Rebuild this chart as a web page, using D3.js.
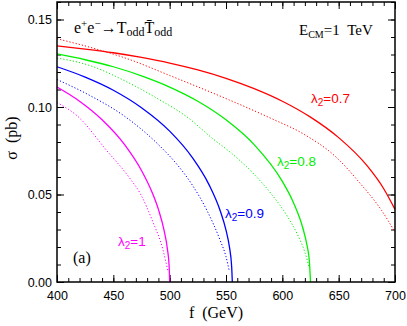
<!DOCTYPE html>
<html>
<head>
<meta charset="UTF-8">
<script src="https://d3js.org/d3.v7.min.js"></script>
<style>
  body { margin: 0; background: #fff; }
  .axis text { font-family: "Liberation Sans", sans-serif; font-size: 12.5px; fill: #000; }
  .axis line { stroke: #000; stroke-width: 1; }
  .axis path { display: none; }
  .serif { font-family: "Liberation Serif", serif; fill: #000; }
  .lab { font-family: "Liberation Sans", sans-serif; font-size: 13.5px; }
</style>
</head>
<body>
<svg id="chart"></svg>
<script>
const width = 407, height = 326;
const plotLeft = 57, plotRight = 395, plotTop = 2, plotBottom = 282;

// sigma (pb) vs f (GeV)
const solid07 = [[400,0.1349],[425,0.1331],[450,0.1310],[475,0.1283],[500,0.1251],[525,0.1212],[550,0.1164],[575,0.1105],[600,0.1033],[625,0.0942],[650,0.0825],[675,0.0666],[690,0.0533],[700,0.0415]];
const dotted07 = [[400,0.139],[430,0.134],[465,0.127],[500,0.118],[553,0.104],[590,0.0935],[619,0.0845],[648,0.0712],[669,0.0564],[688,0.041],[700,0.0285]];
const solid08 = [[400,0.1303],[425,0.1270],[450,0.1230],[475,0.1178],[500,0.1114],[525,0.1033],[550,0.0927],[575,0.0785],[600,0.0575],[610,0.0452],[618,0.0313],[622,0.0206],[624,0.0119],[625,0]];
const dotted08 = [[400,0.128],[430,0.1235],[460,0.115],[490,0.1045],[515,0.0945],[539,0.0815],[555,0.0735],[575,0.0615],[590,0.0505],[605,0.037],[613,0.0277],[620,0.017],[624,0.008]];
const solid09 = [[400,0.1230],[425,0.1171],[450,0.1096],[475,0.0996],[500,0.0862],[520,0.0712],[535,0.0555],[545,0.0404],[550,0.0296],[553,0.0202],[555,0.009],[555.6,0]];
const dotted09 = [[400,0.1157],[430,0.1063],[460,0.0947],[490,0.0785],[507,0.0668],[520,0.0555],[533,0.041],[545,0.0235],[550,0.0145],[553,0.006]];
const solid10 = [[400,0.1114],[420,0.1033],[440,0.0927],[460,0.0785],[475,0.0637],[485,0.0503],[490,0.0415],[495,0.0296],[498,0.0188],[499.5,0.0094],[500,0]];
const dotted10 = [[400,0.1025],[418,0.0949],[444,0.0752],[464,0.0598],[474,0.0504],[485,0.0345],[494,0.0185],[498.5,0.006]];

const lambdaLabels = ["0.7", "0.8", "0.9", "1"];
const xMajor = [400, 450, 500, 550, 600, 650, 700];
const yMajor = [0, 0.05, 0.10, 0.15];

const series = [
  {solid: solid07, dotted: dotted07, color: "#ff0000", lx: 311, ly: 103},
  {solid: solid08, dotted: dotted08, color: "#00f000", lx: 277, ly: 166},
  {solid: solid09, dotted: dotted09, color: "#0000ff", lx: 225, ly: 218},
  {solid: solid10, dotted: dotted10, color: "#ff00ff", lx: 118, ly: 246}
];

const svg = d3.select("#chart").attr("width", width).attr("height", height);

const x = d3.scaleLinear().domain([400, 700]).range([plotLeft, plotRight]);
const y = d3.scaleLinear().domain([0, 0.16]).range([plotBottom, plotTop]);

const minorX = d3.range(400, 701, 10);
const minorY = d3.range(0, 0.1601, 0.01);

// ticks (inward on all four sides)
svg.append("g").attr("class", "axis").attr("transform", `translate(0,${plotBottom})`)
  .call(d3.axisBottom(x).tickValues(minorX).tickSize(-4).tickFormat(""));
svg.append("g").attr("class", "axis").attr("transform", `translate(0,${plotBottom})`)
  .call(d3.axisBottom(x).tickValues(xMajor).tickSize(-7).tickPadding(9).tickFormat(d3.format("d")));
svg.append("g").attr("class", "axis").attr("transform", `translate(0,${plotTop})`)
  .call(d3.axisTop(x).tickValues(minorX).tickSize(-4).tickFormat(""));
svg.append("g").attr("class", "axis").attr("transform", `translate(0,${plotTop})`)
  .call(d3.axisTop(x).tickValues(xMajor).tickSize(-7).tickFormat(""));

svg.append("g").attr("class", "axis").attr("transform", `translate(${plotLeft},0)`)
  .call(d3.axisLeft(y).tickValues(minorY).tickSize(-4).tickFormat(""));
svg.append("g").attr("class", "axis").attr("transform", `translate(${plotLeft},0)`)
  .call(d3.axisLeft(y).tickValues(yMajor).tickSize(-7).tickPadding(5).tickFormat(d3.format(".2f")));
svg.append("g").attr("class", "axis").attr("transform", `translate(${plotRight},0)`)
  .call(d3.axisRight(y).tickValues(minorY).tickSize(-4).tickFormat(""));
svg.append("g").attr("class", "axis").attr("transform", `translate(${plotRight},0)`)
  .call(d3.axisRight(y).tickValues(yMajor).tickSize(-7).tickFormat(""));

// curves
const line = d3.line().x(d => x(d[0])).y(d => y(d[1])).curve(d3.curveMonotoneX);
const plot = svg.append("g");
series.forEach(s => {
  plot.append("path").datum(s.dotted).attr("d", line)
    .attr("fill", "none").attr("stroke", s.color).attr("stroke-width", 1)
    .attr("stroke-dasharray", "1.2,2");
  plot.append("path").datum(s.solid).attr("d", line)
    .attr("fill", "none").attr("stroke", s.color).attr("stroke-width", 1.3);
});

// frame
svg.append("rect").attr("x", plotLeft).attr("y", plotTop)
  .attr("width", plotRight - plotLeft).attr("height", plotBottom - plotTop)
  .attr("fill", "none").attr("stroke", "#000").attr("stroke-width", 1.5);

// lambda labels
series.forEach((s, i) => {
  const t = svg.append("text").attr("class", "lab").attr("x", s.lx).attr("y", s.ly).attr("fill", s.color);
  t.append("tspan").text("λ");
  t.append("tspan").attr("dy", 3).attr("font-size", 10).text("2");
  t.append("tspan").attr("dy", -3).text("=" + lambdaLabels[i]);
});

// process title
const title = svg.append("text").attr("class", "serif").attr("x", 74).attr("y", 33).attr("font-size", 16);
title.append("tspan").text("e");
title.append("tspan").attr("dy", -6).attr("font-size", 11).text("+");
title.append("tspan").attr("dy", 6).text("e");
title.append("tspan").attr("dy", -6).attr("font-size", 11).text("\u2212");
title.append("tspan").attr("dy", 6).text("\u2192T");
title.append("tspan").attr("dy", 3).attr("font-size", 12).text("odd");
title.append("tspan").attr("dy", -3).text("T\u0304");
title.append("tspan").attr("dy", 3).attr("font-size", 12).text("odd");

const ecm = svg.append("text").attr("class", "serif").attr("x", 299).attr("y", 35).attr("font-size", 15);
ecm.append("tspan").text("E");
ecm.append("tspan").attr("dy", 3).attr("font-size", 10).text("CM");
ecm.append("tspan").attr("dy", -3).text("=1\u00a0\u00a0TeV");

svg.append("text").attr("class", "serif").attr("x", 73).attr("y", 263).attr("font-size", 16).text("(a)");

// axis titles
svg.append("text").attr("class", "serif").attr("x", 216).attr("y", 318)
  .attr("text-anchor", "middle").attr("font-size", 16).text("f\u00a0\u00a0(GeV)");
svg.append("text").attr("class", "serif")
  .attr("transform", "translate(17,138) rotate(-90)")
  .attr("text-anchor", "middle").attr("font-size", 16).text("\u03c3\u00a0\u00a0(pb)");
</script>
</body>
</html>
